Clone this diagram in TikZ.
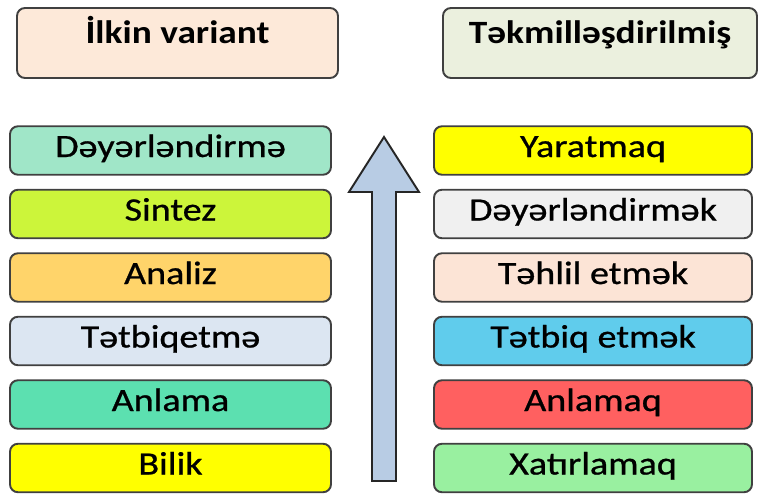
\documentclass[tikz,border=0pt]{standalone}
\usepackage{fontspec}
\setmainfont{Carlito}[FakeStretch=1.15]
\newfontfamily\levelfont{Carlito}[FakeStretch=1.17,FakeBold=0.8]
\usetikzlibrary{positioning}

\begin{document}
\begin{tikzpicture}

\def\rowsep{1.27cm}

\tikzstyle{level}=[rectangle,rounded corners=0.16cm,draw=black!75,line width=1.1pt,minimum width=6.42cm,minimum height=0.97cm,inner sep=0pt,text height=0.42cm,text depth=0.16cm,font=\levelfont\fontsize{18.5}{20}\selectfont]
\tikzstyle{header}=[level,minimum height=1.4cm,inner sep=0.1cm,text height=0.6cm,text depth=0.6cm,font=\rmfamily\fontsize{18.5}{20}\selectfont\bfseries]
\tikzstyle{rightLevel}=[level,minimum width=6.36cm]
\tikzstyle{bigArrow}=[draw=black!85,line width=1.1pt,line join=miter]

\useasboundingbox (0,0) rectangle (15.16,9.86);

%Headers
\node[header,fill={rgb,255:red,253;green,233;blue,217}] (old) at (3.55,9.0) {İlkin variant};
\node[header,minimum width=6.28cm,fill={rgb,255:red,235;green,240;blue,222}] (new) at (12.0,9.0) {Təkmilləşdirilmiş};

%Old levels
\node[level,fill={rgb,255:red,160;green,230;blue,200}] (oldEval) at (3.41cm,0.5cm+5*\rowsep) {Dəyərləndirmə};
\node[level,fill={rgb,255:red,204;green,245;blue,58}] (oldSynth) at (3.41cm,0.5cm+4*\rowsep) {Sintez};
\node[level,fill={rgb,255:red,255;green,212;blue,106}] (oldAnal) at (3.41cm,0.5cm+3*\rowsep) {Analiz};
\node[level,fill={rgb,255:red,220;green,230;blue,242}] (oldApply) at (3.41cm,0.5cm+2*\rowsep) {Tətbiqetmə};
\node[level,fill={rgb,255:red,92;green,224;blue,176}] (oldUnder) at (3.41cm,0.5cm+1*\rowsep) {Anlama};
\node[level,fill={rgb,255:red,255;green,255;blue,0}] (oldKnow) at (3.41,0.5) {Bilik};

%Revised levels
\node[rightLevel,fill={rgb,255:red,255;green,255;blue,0}] (newCreate) at (11.86cm,0.5cm+5*\rowsep) {Yaratmaq};
\node[rightLevel,fill={rgb,255:red,240;green,240;blue,240}] (newEval) at (11.86cm,0.5cm+4*\rowsep) {Dəyərləndirmək};
\node[rightLevel,fill={rgb,255:red,252;green,228;blue,214}] (newAnal) at (11.86cm,0.5cm+3*\rowsep) {Təhlil etmək};
\node[rightLevel,fill={rgb,255:red,96;green,204;blue,236}] (newApply) at (11.86cm,0.5cm+2*\rowsep) {Tətbiq etmək};
\node[rightLevel,fill={rgb,255:red,255;green,96;blue,96}] (newUnder) at (11.86cm,0.5cm+1*\rowsep) {Anlamaq};
\node[rightLevel,fill={rgb,255:red,153;green,240;blue,160}] (newRemember) at (11.86,0.5) {Xatırlamaq};

%Arrow upwards
\draw[bigArrow,fill={rgb,255:red,184;green,204;blue,228}] (7.44,0.24) -- (7.44,6.02) -- (6.98,6.02) -- (7.68,7.12) -- (8.38,6.02) -- (7.92,6.02) -- (7.92,0.24) -- cycle;

\end{tikzpicture}
\end{document}
